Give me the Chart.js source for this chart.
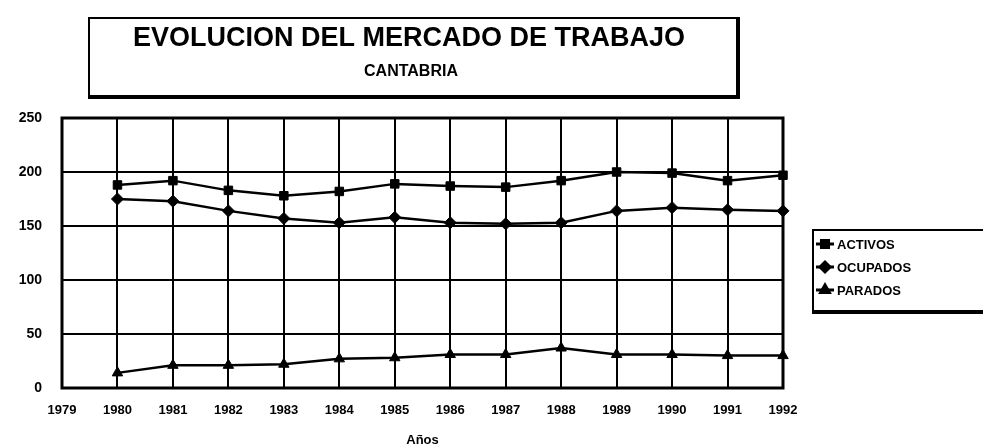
<!DOCTYPE html>
<html>
<head>
<meta charset="utf-8">
<script src="https://cdn.jsdelivr.net/npm/chart.js@4/dist/chart.umd.min.js"></script>
<style>
html,body{margin:0;padding:0;background:#fff;}
#wrap{position:relative;width:983px;height:448px;}
</style>
</head>
<body>
<div id="wrap"><canvas id="c" width="983" height="448"></canvas></div>
<script>
const years = [1980,1981,1982,1983,1984,1985,1986,1987,1988,1989,1990,1991,1992];
const activos  = [188,192,183,178,182,189,187,186,192,200,199,192,197];
const ocupados = [175,173,164,157,153,158,153,152,153,164,167,165,164];
const parados  = [14,21,21,22,27,28,31,31,37,31,31,30,30];
const seriesNames = ['ACTIVOS','OCUPADOS','PARADOS'];
const pointStyles = ['rect','rectRot','triangle'];
const titleText = 'EVOLUCION DEL MERCADO DE TRABAJO';
const subtitleText = 'CANTABRIA';
const xAxisTitle = 'Años';

const FONT = '"Liberation Sans", Arial, sans-serif';

function pts(vals){ return years.map((y,i)=>({x:y,y:vals[i]})); }

const decor = {
  id:'decor',
  afterDraw(chart){
    const ctx = chart.ctx;
    ctx.save();
    // title box with shadow
    ctx.fillStyle = '#000';
    ctx.fillRect(90,17,650,2);
    ctx.fillRect(88,17,2,80);
    ctx.fillRect(736,17,4,82);
    ctx.fillRect(88,95,652,4);
    ctx.textAlign='center';
    ctx.textBaseline='middle';
    ctx.font = 'bold 27px ' + FONT;
    ctx.fillText(titleText, 409, 39);
    ctx.font = 'bold 16px ' + FONT;
    ctx.fillText(subtitleText, 411, 72);
    // legend box
    ctx.fillRect(812,229,171,2);
    ctx.fillRect(812,229,2,84);
    ctx.fillRect(812,310,171,4);
    const ys=[244,267,290];
    chart.data.datasets.forEach((ds,i)=>{
      ctx.strokeStyle='#000';
      ctx.lineWidth=3;
      ctx.beginPath();ctx.moveTo(816,ys[i]);ctx.lineTo(834,ys[i]);ctx.stroke();
      Chart.helpers.drawPoint(ctx,{pointStyle:ds.pointStyle,radius:5,borderWidth:1},825,ys[i]);
      ctx.fillStyle='#000';
      ctx.textAlign='left';
      ctx.font='bold 13px ' + FONT;
      ctx.fillText(ds.label, 837, ys[i]+1);
    });
    // plot border
    const a = chart.chartArea;
    ctx.lineWidth=3;
    ctx.strokeStyle='#000';
    ctx.strokeRect(a.left, a.top, a.right-a.left, a.bottom-a.top);
    ctx.restore();
  }
};

const dsCommon = {borderColor:'#000',backgroundColor:'#000',borderWidth:2.5,pointBorderWidth:1,pointBackgroundColor:'#000',pointBorderColor:'#000',tension:0,fill:false,clip:false};

new Chart(document.getElementById('c'),{
  type:'line',
  data:{datasets:[
    Object.assign({label:seriesNames[0],data:pts(activos),pointStyle:pointStyles[0],pointRadius:6},dsCommon),
    Object.assign({label:seriesNames[1],data:pts(ocupados),pointStyle:pointStyles[1],pointRadius:6},dsCommon),
    Object.assign({label:seriesNames[2],data:pts(parados),pointStyle:pointStyles[2],pointRadius:6},dsCommon)
  ]},
  options:{
    responsive:false,
    animation:false,
    layout:{padding:{top:118,right:200,left:0,bottom:0}},
    plugins:{legend:{display:false},title:{display:false},tooltip:{enabled:false}},
    scales:{
      x:{type:'linear',min:1979,max:1992,
        afterFit(s){s.height=60;},
        afterBuildTicks(s){s.ticks=[];for(let y=1979;y<=1992;y++)s.ticks.push({value:y});},
        grid:{color:'#000',lineWidth:2,drawTicks:false},
        border:{display:false},
        ticks:{color:'#000',font:{family:FONT,weight:'bold',size:13},padding:15,maxRotation:0,autoSkip:false,callback:v=>String(v)},
        title:{display:true,text:xAxisTitle,color:'#000',font:{family:FONT,weight:'bold',size:13},padding:{top:2,bottom:0}}
      },
      y:{min:0,max:250,
        afterFit(s){s.width=62;},
        grid:{color:'#000',lineWidth:2,drawTicks:false},
        border:{display:false},
        ticks:{stepSize:50,color:'#000',font:{family:FONT,weight:'bold',size:14},padding:20}
      }
    }
  },
  plugins:[decor]
});
</script>
</body>
</html>
